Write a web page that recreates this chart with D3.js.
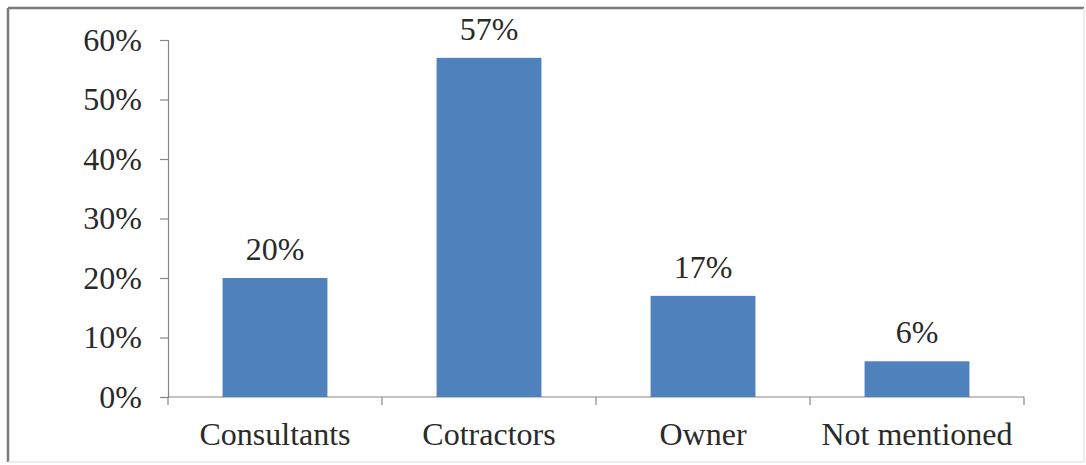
<!DOCTYPE html>
<html>
<head>
<meta charset="utf-8">
<script src="https://d3js.org/d3.v7.min.js"></script>
<style>
  html, body { margin: 0; padding: 0; background: #fff; }
  svg { display: block; }
</style>
</head>
<body>
<svg id="chart" width="1086" height="465"></svg>
<script>
const categories = ["Consultants", "Cotractors", "Owner", "Not mentioned"];
const values = [20, 57, 17, 6];
const valueLabels = ["20%", "57%", "17%", "6%"];
const yTicks = [0, 10, 20, 30, 40, 50, 60];

const svg = d3.select("#chart");
const W = 1086, H = 465;
const font = "'Liberation Serif', 'Times New Roman', 'DejaVu Serif', serif";
const fs = 32;

// frame
svg.append("rect").attr("x", 0).attr("y", 0).attr("width", W).attr("height", H).attr("fill", "#fff");
svg.append("line").attr("x1", 8).attr("x2", 1084).attr("y1", 8).attr("y2", 8).attr("stroke", "#7a7a7a").attr("stroke-width", 2.5);
svg.append("line").attr("x1", 8).attr("x2", 8).attr("y1", 8).attr("y2", 462).attr("stroke", "#7a7a7a").attr("stroke-width", 2.5);
svg.append("line").attr("x1", 1084).attr("x2", 1084).attr("y1", 8).attr("y2", 462).attr("stroke", "#e6e6e6").attr("stroke-width", 1.5);
svg.append("line").attr("x1", 8).attr("x2", 1084).attr("y1", 462).attr("y2", 462).attr("stroke", "#e6e6e6").attr("stroke-width", 1.5);

const x = d3.scaleBand().domain(categories).range([168, 1024]).paddingInner(0.51).paddingOuter(0.255);
const y = d3.scaleLinear().domain([0, 60]).range([397, 40]);

const axisColor = "#868686";

// y axis
const yAxis = svg.append("g").attr("transform", "translate(168,0)")
  .call(d3.axisLeft(y).tickValues(yTicks).tickFormat(d => d + "%").tickSize(8).tickPadding(18));
yAxis.select(".domain").attr("stroke", axisColor).attr("stroke-width", 1.2);
yAxis.selectAll(".tick line").attr("stroke", axisColor).attr("stroke-width", 1.2);
yAxis.selectAll(".tick text").attr("font-family", font).attr("font-size", fs).attr("fill", "#2a2a2a");

// x axis line and category-boundary ticks
const xOuter = d3.scaleBand().domain(categories).range([168, 1024]);
svg.append("line").attr("x1", 168).attr("x2", 1024).attr("y1", y(0)).attr("y2", y(0))
  .attr("stroke", axisColor).attr("stroke-width", 1.2);
const bounds = categories.map(c => xOuter(c)).concat([xOuter.range()[1]]);
svg.selectAll(".xtick").data(bounds).enter().append("line")
  .attr("x1", d => d).attr("x2", d => d).attr("y1", y(0)).attr("y2", y(0) + 8)
  .attr("stroke", axisColor).attr("stroke-width", 1.2);

// bars
svg.selectAll(".bar").data(values).enter().append("rect")
  .attr("x", (d, i) => x(categories[i]))
  .attr("y", d => y(d))
  .attr("width", x.bandwidth())
  .attr("height", d => y(0) - y(d))
  .attr("fill", "#4f81bd");

// value labels
svg.selectAll(".vlabel").data(values).enter().append("text")
  .attr("x", (d, i) => x(categories[i]) + x.bandwidth() / 2)
  .attr("y", d => y(d) - 18)
  .attr("text-anchor", "middle")
  .attr("font-family", font).attr("font-size", fs).attr("fill", "#2a2a2a")
  .text((d, i) => valueLabels[i]);

// category labels
svg.selectAll(".clabel").data(categories).enter().append("text")
  .attr("x", d => xOuter(d) + xOuter.bandwidth() / 2)
  .attr("y", 445)
  .attr("text-anchor", "middle")
  .attr("font-family", font).attr("font-size", fs).attr("fill", "#2a2a2a")
  .text(d => d);
</script>
</body>
</html>
